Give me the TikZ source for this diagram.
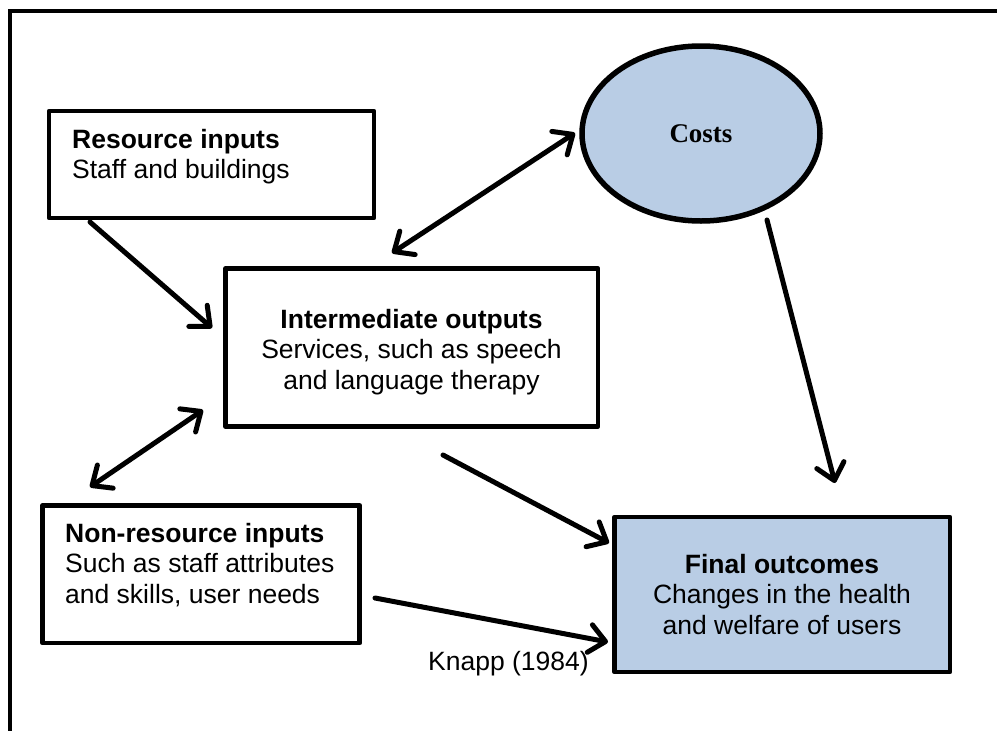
\documentclass[tikz,border=0pt]{standalone}
\usepackage{fontspec}
\setmainfont{Liberation Sans}
\newfontfamily\costfont{Liberation Serif}
\usetikzlibrary{arrows.meta,shapes.geometric}
\definecolor{boxblue}{HTML}{B9CDE5}
\begin{document}
\begin{tikzpicture}[x=1pt,y=-1pt,
  diagbox/.style={draw=black, line width=4.8pt, rectangle, inner sep=0pt, line join=round},
  txt/.style={inner sep=0pt, font=\fontsize{26.5}{30.5}\selectfont},
  headtip/.tip={Straight Barb[length=16pt,width=28pt,round]},
  conn/.style={line width=5pt, line cap=round, -headtip},
  biconn/.style={line width=5pt, line cap=round, headtip-headtip},
]
\useasboundingbox (0,0) rectangle (997,731);
\clip (0,0) rectangle (997,731);
% outer frame (open to the right and bottom)
\draw[line width=4pt] (9.5,760) -- (9.5,11) -- (1020,11);

% boxes
\node[diagbox, minimum width=325pt, minimum height=107pt] (res) at (211.5,164.5) {};
\node[diagbox, minimum width=372.5pt, minimum height=158pt] (inter) at (411.75,347.5) {};
\node[diagbox, minimum width=317.2pt, minimum height=137.5pt] (nonres) at (201.1,574.25) {};
\node[diagbox, fill=boxblue, minimum width=335.3pt, minimum height=155pt] (final) at (782.3,594.5) {};
\node[ellipse, draw, line width=5.5pt, fill=boxblue, minimum width=238pt, minimum height=175pt, inner sep=0pt,
      font=\costfont\bfseries\fontsize{27}{30}\selectfont] (costs) at (701,133.5) {Costs};

% texts
\node[txt, anchor=base west] (restext) at (72,148)
  {\begin{tabular}[t]{@{}l@{}}\textbf{Resource inputs}\\Staff and buildings\end{tabular}};
\node[txt, anchor=base] (intertext) at (411.5,328)
  {\begin{tabular}[t]{@{}c@{}}\textbf{Intermediate outputs}\\Services, such as speech\\and language therapy\end{tabular}};
\node[txt, anchor=base west] (nonrestext) at (65,542)
  {\begin{tabular}[t]{@{}l@{}}\textbf{Non-resource inputs}\\Such as staff attributes\\and skills, user needs\end{tabular}};
\node[txt, anchor=base] (finaltext) at (782,573)
  {\begin{tabular}[t]{@{}c@{}}\textbf{Final outcomes}\\Changes in the health\\and welfare of users\end{tabular}};
\node[txt, anchor=base west] (knapp) at (428,670) {Knapp (1984)};

% connector end points
\coordinate (a1s) at (90,222);  \coordinate (a1e) at (212,328);
\coordinate (a2s) at (392,253); \coordinate (a2e) at (575,133);
\coordinate (a3s) at (203,410); \coordinate (a3e) at (90,487);
\coordinate (a4s) at (443,455); \coordinate (a4e) at (609,543);
\coordinate (a5s) at (375,598); \coordinate (a5e) at (608,642);
\coordinate (a6s) at (767,220); \coordinate (a6e) at (835,483);

\draw[conn] (a1s) -- (a1e);
\draw[biconn] (a2s) -- (a2e);
\draw[biconn] (a3s) -- (a3e);
\draw[conn] (a4s) -- (a4e);
\draw[conn] (a5s) -- (a5e);
\draw[conn] (a6s) -- (a6e);
\end{tikzpicture}
\end{document}
